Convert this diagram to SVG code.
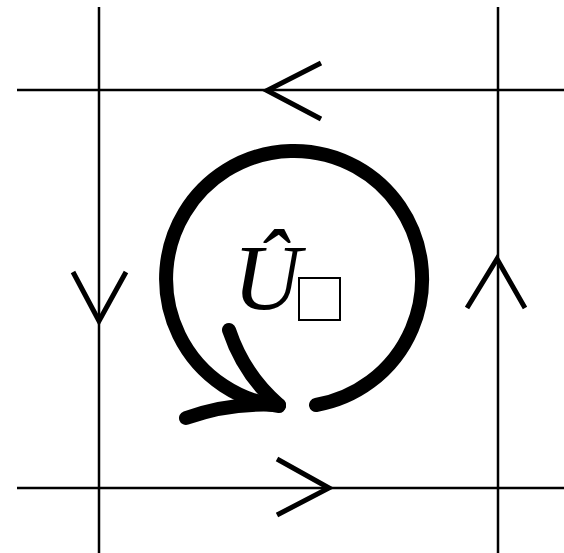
<svg xmlns="http://www.w3.org/2000/svg" width="564" height="553" viewBox="0 0 564 553">
<style>
.ln{stroke:#000;stroke-width:2.5;fill:none}
.ar{stroke:#000;stroke-width:5;fill:none;stroke-linecap:butt;stroke-linejoin:miter}
.loop{stroke:#000;stroke-width:14;fill:none;stroke-linecap:round;stroke-linejoin:round}
</style>
<rect width="564" height="553" fill="#fff"/>
<g id="connectors">
<line class="ln" x1="99" y1="7" x2="99" y2="553"/>
<line class="ln" x1="498" y1="7" x2="498" y2="553"/>
<line class="ln" x1="17" y1="90" x2="564" y2="90"/>
<line class="ln" x1="17" y1="488" x2="564" y2="488"/>
<polyline class="ar" points="321,63 267,90.5 321,119"/>
<polyline class="ar" points="73,272 99,321 126,272"/>
<polyline class="ar" points="467,308 497,259 525,308"/>
<polyline class="ar" points="277,459 329,488 277,515"/>
</g>
<g id="loop">
<path class="loop" d="M316,405 A128,128 0 1 0 279,406"/>
<path class="loop" d="M229,330 Q244,375 279,405"/>
<path class="loop" d="M186,418 Q230,402 279,405"/>
</g>
<g id="label">
<text x="233" y="309" font-family="Liberation Serif, serif" font-style="italic" font-size="94">Û</text>
<rect x="299" y="278" width="41" height="42" fill="none" stroke="#000" stroke-width="2"/>
</g>
</svg>
